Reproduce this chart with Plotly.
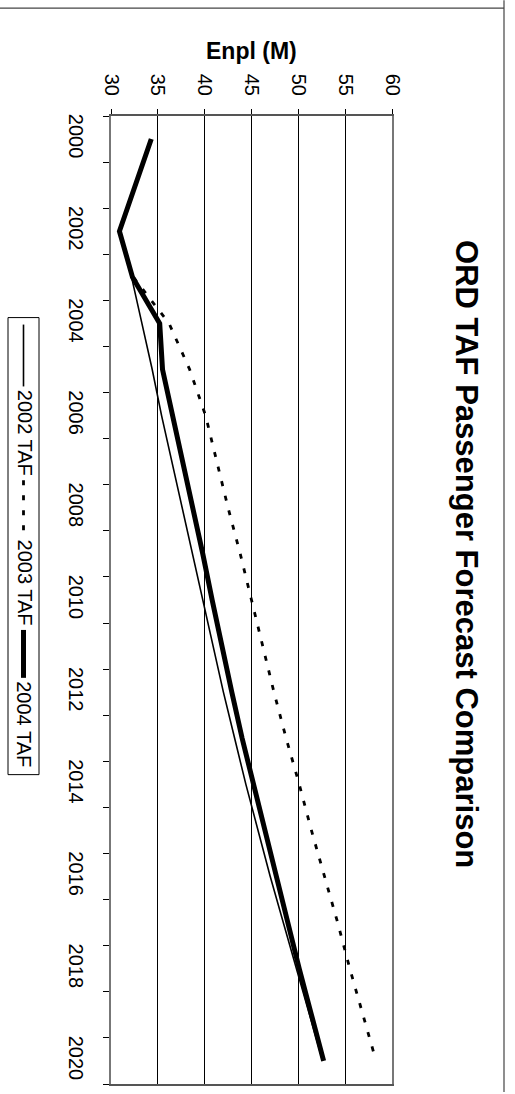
import plotly.graph_objects as go

# Forecast years and enplanements (millions) for each Terminal Area Forecast
years = list(range(2000, 2021))

taf_2002_years = list(range(2002, 2021))
taf_2002 = [30.9, 32.2, 33.3, 34.4, 35.4, 36.5, 37.6, 38.7, 39.8, 40.9,
            42.0, 43.2, 44.4, 45.7, 47.0, 48.4, 49.8, 51.2, 52.6]

taf_2003_years = list(range(2003, 2021))
taf_2003 = [32.4, 36.2, 38.4, 40.1, 41.3, 42.5, 43.8, 45.0, 46.2, 47.4,
            48.7, 50.1, 51.4, 52.8, 54.2, 55.5, 56.9, 58.3]

taf_2004_years = years
taf_2004 = [34.3, 32.6, 30.9, 32.3, 35.2, 35.5, 36.6, 37.7, 38.8, 39.8,
            40.8, 41.8, 42.9, 44.0, 45.2, 46.4, 47.6, 48.9, 50.1, 51.4, 52.7]

year_labels = [str(y) for y in range(2000, 2021, 2)]
value_ticks = [30, 35, 40, 45, 50, 55, 60]

title_text = "ORD TAF Passenger Forecast Comparison"
axis_title = "Enpl (M)"
legend_names = ["2002 TAF", "2003 TAF", "2004 TAF"]

FONT = "Liberation Sans, Arial, sans-serif"
W, H = 515, 1094
L, R, T, B = 111, 123, 116, 8
PW, PH = W - L - R, H - T - B


def px(x):
    return (x - L) / PW


def py(y):
    return (H - B - y) / PH


fig = go.Figure()
fig.add_trace(go.Scatter(x=taf_2002, y=taf_2002_years, mode="lines",
                         line=dict(color="black", width=1.6), name=legend_names[0]))
fig.add_trace(go.Scatter(x=taf_2003, y=taf_2003_years, mode="lines",
                         line=dict(color="black", width=2.8, dash="5px,10px"),
                         name=legend_names[1]))
fig.add_trace(go.Scatter(x=taf_2004, y=taf_2004_years, mode="lines",
                         line=dict(color="black", width=5), name=legend_names[2]))

shapes = []
annotations = []

# chart frame edges (top and right)
shapes.append(dict(type="line", xref="paper", yref="paper", x0=px(0), x1=px(504),
                   y0=py(8), y1=py(8), line=dict(color="#444", width=1.2)))
shapes.append(dict(type="line", xref="paper", yref="paper", x0=px(504), x1=px(504),
                   y0=py(0), y1=py(H), line=dict(color="#444", width=1.2)))

# legend box, drawn vertically along the left side
lx0, lx1, ly0, ly1 = 8, 39, 318, 776
shapes.append(dict(type="rect", xref="paper", yref="paper", x0=px(lx0), x1=px(lx1),
                   y0=py(ly0), y1=py(ly1), line=dict(color="black", width=1),
                   fillcolor="white", layer="above"))
samples = [dict(width=1.6, dash="solid", length=62),
           dict(width=2.8, dash="5px,10px", length=56),
           dict(width=5, dash="solid", length=48)]
cx = (lx0 + lx1) / 2
y = ly0 + 7
for name, st in zip(legend_names, samples):
    shapes.append(dict(type="line", xref="paper", yref="paper", x0=px(cx), x1=px(cx),
                       y0=py(y), y1=py(y + st["length"]),
                       line=dict(color="black", width=st["width"], dash=st["dash"])))
    y += st["length"] + 2
    annotations.append(dict(text=name, xref="paper", yref="paper", x=px(cx + 1),
                            y=py(y + 44), textangle=90, showarrow=False,
                            xanchor="center", yanchor="middle",
                            font=dict(family=FONT, size=20, color="black")))
    y += 92

annotations.append(dict(text="<b>" + title_text + "</b>", xref="paper", yref="paper",
                        x=px(467), y=py(555), textangle=90, showarrow=False,
                        xanchor="center", yanchor="middle",
                        font=dict(family=FONT, size=31, color="black")))
annotations.append(dict(text="<b>" + axis_title + "</b>", xref="paper", yref="paper",
                        x=px(251), y=py(51), showarrow=False,
                        xanchor="center", yanchor="middle",
                        font=dict(family=FONT, size=23, color="black")))

fig.update_layout(
    width=W, height=H,
    margin=dict(l=L, r=R, t=T, b=B),
    paper_bgcolor="white", plot_bgcolor="white",
    showlegend=False,
    font=dict(family=FONT, size=20, color="black"),
    shapes=shapes, annotations=annotations,
    xaxis=dict(side="top", range=[30, 60], tickvals=value_ticks,
               ticktext=[str(v) for v in value_ticks], tickangle=90,
               ticks="outside", ticklen=5, tickcolor="black",
               showgrid=True, gridcolor="black", gridwidth=1,
               showline=True, linecolor="#555", linewidth=2, mirror=True,
               zeroline=False, ticklabelstandoff=6,
               tickfont=dict(family=FONT, size=20)),
    yaxis=dict(range=[2020.5, 1999.5], tickvals=list(range(2000, 2021, 2)),
               ticktext=year_labels, tickangle=90, ticks="",
               minor=dict(tickmode="array",
                          tickvals=[v + 0.5 for v in range(1999, 2021)],
                          ticks="outside", ticklen=6, tickcolor="black",
                          showgrid=False),
               showgrid=False, showline=True, linecolor="#777", linewidth=2,
               mirror=True, zeroline=False, ticklabelstandoff=16,
               tickfont=dict(family=FONT, size=20)),
)

fig.write_html("out.html")
